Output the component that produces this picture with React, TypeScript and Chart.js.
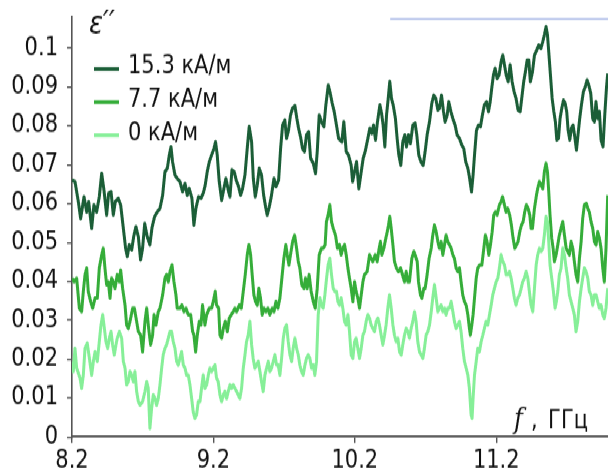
import React, { useEffect, useRef } from "react";
import { Chart, registerables } from "chart.js";

Chart.register(...registerables);

// ---------- data ----------
const seriesLabels = ["15.3 кА/м", "7.7 кА/м", "0 кА/м"];
const xTicks = [8.2, 9.2, 10.2, 11.2];
const yTicks = [0, 0.01, 0.02, 0.03, 0.04, 0.05, 0.06, 0.07, 0.08, 0.09, 0.1];
const xRange = [8.2, 11.99];
const yRange = [0, 0.108];

const freq153 = [
  8.200, 8.221, 8.245, 8.261, 8.285, 8.304, 8.318, 8.339, 8.355, 8.374,
  8.393, 8.410, 8.426, 8.445, 8.459, 8.476, 8.492, 8.506, 8.527, 8.544,
  8.563, 8.579, 8.591, 8.605, 8.622, 8.638, 8.652, 8.669, 8.685, 8.699,
  8.714, 8.732, 8.751, 8.765, 8.784, 8.803, 8.822, 8.841, 8.857, 8.874,
  8.888, 8.900, 8.911, 8.928, 8.944, 8.963, 8.982, 8.999, 9.015, 9.029,
  9.048, 9.062, 9.076, 9.095, 9.112, 9.128, 9.142, 9.156, 9.171, 9.187,
  9.204, 9.215, 9.227, 9.241, 9.258, 9.274, 9.288, 9.305, 9.317, 9.331,
  9.347, 9.361, 9.378, 9.392, 9.406, 9.423, 9.439, 9.453, 9.470, 9.482,
  9.496, 9.510, 9.524, 9.540, 9.555, 9.569, 9.580, 9.595, 9.609, 9.628,
  9.642, 9.661, 9.675, 9.689, 9.705, 9.717, 9.731, 9.745, 9.759, 9.776,
  9.790, 9.802, 9.816, 9.830, 9.844, 9.858, 9.873, 9.887, 9.906, 9.922,
  9.934, 9.948, 9.964, 9.981, 9.995, 10.012, 10.026, 10.040, 10.054, 10.070,
  10.085,
  10.108, 10.122, 10.139, 10.155, 10.174, 10.184, 10.198, 10.212, 10.228, 10.245,
  10.259, 10.273, 10.292, 10.306, 10.320, 10.332, 10.346, 10.360, 10.377, 10.389,
  10.400, 10.412, 10.424, 10.436, 10.447, 10.459, 10.471, 10.487, 10.499, 10.511,
  10.525, 10.539, 10.553, 10.565, 10.579, 10.593, 10.610, 10.626, 10.638, 10.652,
  10.667, 10.683, 10.697, 10.711, 10.728, 10.744, 10.758, 10.772, 10.787, 10.798,
  10.813, 10.827, 10.838, 10.853, 10.864, 10.879, 10.893, 10.909, 10.923, 10.940,
  10.956, 10.970, 10.984, 10.999, 11.010, 11.025, 11.036, 11.046, 11.060, 11.074,
  11.088, 11.102, 11.116, 11.131, 11.145, 11.157, 11.168, 11.180, 11.192, 11.206,
  11.220, 11.234, 11.246, 11.258, 11.270, 11.284, 11.298, 11.312, 11.326, 11.340,
  11.354, 11.369, 11.380, 11.394, 11.406, 11.418, 11.430, 11.441, 11.456, 11.470,
  11.486, 11.500, 11.515, 11.529, 11.540, 11.552, 11.562, 11.571, 11.583, 11.595,
  11.607, 11.618, 11.628, 11.640, 11.651, 11.663, 11.675, 11.687, 11.698, 11.708,
  11.720, 11.731, 11.743, 11.755, 11.767, 11.778, 11.790, 11.802, 11.816, 11.830,
  11.842, 11.854, 11.868, 11.882, 11.894, 11.905, 11.917, 11.929, 11.941, 11.955,
  11.967, 11.979, 11.988,
];
const eps153 = [
  0.0661, 0.0657, 0.0605, 0.0562, 0.0618, 0.0579, 0.0605, 0.0537, 0.0597, 0.0579,
  0.0618, 0.0678, 0.0635, 0.0571, 0.0627, 0.0631, 0.0571, 0.0605, 0.0614, 0.0597,
  0.0537, 0.0485, 0.0464, 0.0494, 0.0481, 0.0519, 0.0541, 0.0515, 0.0455, 0.0485,
  0.0549, 0.0515, 0.0494, 0.0537, 0.0567, 0.0579, 0.0588, 0.0622, 0.0682, 0.0691,
  0.0725, 0.0746, 0.0708, 0.0674, 0.0665, 0.0657, 0.0631, 0.0652, 0.0622, 0.0639,
  0.0614, 0.0545, 0.0588, 0.0618, 0.0614, 0.0627, 0.0648, 0.0682, 0.0708, 0.0725,
  0.0742, 0.0759, 0.0725, 0.0657, 0.0609, 0.0639, 0.0665, 0.0635, 0.0618, 0.0687,
  0.0682, 0.0661, 0.0644, 0.0622, 0.0639, 0.0674, 0.0742, 0.0798, 0.0759, 0.0665,
  0.0618, 0.0648, 0.0691, 0.0674, 0.0622, 0.0592, 0.0571, 0.0592, 0.0618, 0.0665,
  0.0644, 0.0661, 0.0742, 0.0802, 0.0815, 0.0768, 0.0789, 0.0828, 0.0845, 0.0852,
  0.0819, 0.0794, 0.0772, 0.0742, 0.0734, 0.0777, 0.0785, 0.0717, 0.0704, 0.0678,
  0.0734, 0.0828, 0.0811, 0.0798, 0.0854, 0.0905, 0.0884, 0.0858, 0.0837, 0.0802,
  0.0768,
  0.0759, 0.0811, 0.0734, 0.0725, 0.0699, 0.0657, 0.0682, 0.0708, 0.0639, 0.0682,
  0.0717, 0.0734, 0.0768, 0.0794, 0.0781, 0.0802, 0.0764, 0.0811, 0.0854, 0.0832,
  0.0802, 0.0747, 0.0828, 0.0871, 0.0914, 0.0871, 0.0854, 0.0819, 0.0768, 0.0725,
  0.0699, 0.0759, 0.0777, 0.0747, 0.0777, 0.0755, 0.0802, 0.0807, 0.0777, 0.0725,
  0.0708, 0.0699, 0.0734, 0.0777, 0.0811, 0.0858, 0.0879, 0.0871, 0.0841, 0.0845,
  0.0879, 0.0837, 0.0811, 0.0828, 0.0862, 0.0837, 0.0819, 0.0802, 0.0777, 0.0768,
  0.0751, 0.0742, 0.0708, 0.0691, 0.0669, 0.0631, 0.0674, 0.0725, 0.0789, 0.0802,
  0.0798, 0.0828, 0.0854, 0.0862, 0.0837, 0.0862, 0.0897, 0.0931, 0.0948, 0.0922,
  0.0931, 0.0965, 0.0982, 0.0957, 0.0931, 0.0914, 0.0957, 0.0914, 0.0888, 0.0871,
  0.0841, 0.0837, 0.0871, 0.0914, 0.0939, 0.0969, 0.0969, 0.0914, 0.0939, 0.0982,
  0.0995, 0.1008, 0.0999, 0.1017, 0.1034, 0.1055, 0.1034, 0.0991, 0.0931, 0.0871,
  0.0837, 0.0811, 0.0764, 0.0768, 0.0819, 0.0845, 0.0866, 0.0858, 0.0837, 0.0789,
  0.0764, 0.0794, 0.0802, 0.0772, 0.0738, 0.0777, 0.0819, 0.0854, 0.0888, 0.0901,
  0.0918, 0.0905, 0.0884, 0.0819, 0.0811, 0.0862, 0.0819, 0.0837, 0.0764, 0.0747,
  0.0828, 0.0897, 0.0935,
];

const freq77 = [
  8.200, 8.214, 8.233, 8.252, 8.268, 8.280, 8.292, 8.304, 8.315, 8.332,
  8.346, 8.363, 8.379, 8.393, 8.410, 8.421, 8.433, 8.445, 8.457, 8.469,
  8.480, 8.492, 8.504, 8.520, 8.535, 8.544, 8.558, 8.575, 8.586, 8.598,
  8.610, 8.629, 8.641, 8.657, 8.669, 8.685, 8.699, 8.716, 8.728, 8.742,
  8.756, 8.770, 8.780, 8.794, 8.810, 8.822, 8.841, 8.857, 8.869, 8.881,
  8.893, 8.907, 8.921, 8.935, 8.944, 8.963, 8.977, 8.992, 9.006, 9.022,
  9.039, 9.053, 9.062, 9.074, 9.086, 9.100, 9.112, 9.123, 9.140, 9.152,
  9.171, 9.187, 9.199, 9.213, 9.222, 9.237, 9.246, 9.258, 9.270, 9.284,
  9.298, 9.312, 9.326, 9.340, 9.352, 9.364, 9.383, 9.397, 9.411, 9.425,
  9.439, 9.451, 9.463, 9.474, 9.486, 9.498, 9.510, 9.521, 9.533, 9.545,
  9.557, 9.571, 9.585, 9.599, 9.616, 9.628, 9.642, 9.656, 9.670, 9.684,
  9.698, 9.712, 9.722, 9.734, 9.745, 9.760, 9.774, 9.788, 9.800, 9.811,
  9.825, 9.840, 9.851, 9.863, 9.877, 9.891, 9.906, 9.920, 9.934, 9.948,
  9.964, 9.976, 9.990, 9.999, 10.011, 10.023, 10.035, 10.047, 10.063, 10.077,
  10.092, 10.103, 10.115, 10.127, 10.139, 10.151, 10.162, 10.174, 10.186, 10.198,
  10.209, 10.221, 10.233, 10.245, 10.257, 10.268, 10.287, 10.304, 10.315, 10.327,
  10.344, 10.358, 10.372, 10.381, 10.391, 10.405, 10.414, 10.429, 10.438, 10.447,
  10.457, 10.469, 10.480, 10.494, 10.509, 10.523, 10.537, 10.551, 10.563, 10.575,
  10.586, 10.603, 10.617, 10.626, 10.641, 10.650, 10.664, 10.674, 10.688, 10.697,
  10.711, 10.725, 10.740, 10.751, 10.763, 10.775, 10.787, 10.798, 10.810, 10.822,
  10.834, 10.845, 10.857, 10.869, 10.881, 10.893, 10.904, 10.916, 10.928, 10.940,
  10.951, 10.963, 10.975, 10.987, 10.999, 11.010, 11.017, 11.027, 11.036, 11.046,
  11.058, 11.069, 11.083, 11.098, 11.112, 11.123, 11.135, 11.147, 11.159, 11.171,
  11.182, 11.194, 11.206, 11.222, 11.234, 11.244, 11.258, 11.269, 11.281, 11.295,
  11.307, 11.319, 11.331, 11.343, 11.354, 11.366, 11.378, 11.390, 11.401, 11.413,
  11.425, 11.437, 11.446, 11.456, 11.470, 11.484, 11.493, 11.505, 11.517, 11.529,
  11.540, 11.552, 11.562, 11.571, 11.580, 11.592, 11.602, 11.611, 11.623, 11.635,
  11.646, 11.658, 11.670, 11.682, 11.694, 11.705, 11.717, 11.729, 11.741, 11.752,
  11.764, 11.776, 11.788, 11.800, 11.811, 11.823, 11.837, 11.847, 11.858, 11.870,
  11.882, 11.894, 11.906, 11.917, 11.929, 11.941, 11.953, 11.964, 11.976, 11.988,
];
const eps77 = [
  0.0408, 0.0399, 0.0408, 0.0331, 0.0322, 0.0374, 0.0417, 0.0434, 0.0374, 0.0348,
  0.0331, 0.0357, 0.0357, 0.0434, 0.0468, 0.0485, 0.0434, 0.0391, 0.0399, 0.0357,
  0.0408, 0.0399, 0.0382, 0.0417, 0.0399, 0.0429, 0.0382, 0.0339, 0.0288, 0.0279,
  0.0297, 0.0331, 0.0331, 0.0297, 0.0271, 0.0262, 0.0219, 0.0297, 0.0331, 0.0279,
  0.0237, 0.0262, 0.0314, 0.0288, 0.0322, 0.0331, 0.0365, 0.0408, 0.0417, 0.0399,
  0.0425, 0.0442, 0.0399, 0.0365, 0.0331, 0.0331, 0.0339, 0.0322, 0.0331, 0.0314,
  0.0314, 0.0271, 0.0262, 0.0219, 0.0262, 0.0297, 0.0288, 0.0339, 0.0288, 0.0314,
  0.0331, 0.0331, 0.0348, 0.0374, 0.0339, 0.0331, 0.0262, 0.0254, 0.0279, 0.0297,
  0.0271, 0.0305, 0.0314, 0.0322, 0.0331, 0.0322, 0.0339, 0.0331, 0.0374, 0.0417,
  0.0468, 0.0494, 0.0468, 0.0417, 0.0365, 0.0348, 0.0339, 0.0382, 0.0357, 0.0314,
  0.0331, 0.0322, 0.0331, 0.0314, 0.0331, 0.0322, 0.0348, 0.0331, 0.0357, 0.0408,
  0.0459, 0.0494, 0.0468, 0.0442, 0.0468, 0.0502, 0.0519, 0.0485, 0.0451, 0.0434,
  0.0391, 0.0382, 0.0408, 0.0382, 0.0417, 0.0374, 0.0348, 0.0331, 0.0382, 0.0468,
  0.0485, 0.0485, 0.0494, 0.0554, 0.0571, 0.0597, 0.0554, 0.0537, 0.0519, 0.0485,
  0.0494, 0.0468, 0.0485, 0.0494, 0.0468, 0.0434, 0.0408, 0.0382, 0.0348, 0.0399,
  0.0374, 0.0357, 0.0331, 0.0365, 0.0399, 0.0417, 0.0425, 0.0468, 0.0459, 0.0451,
  0.0468, 0.0451, 0.0485, 0.0502, 0.0468, 0.0485, 0.0502, 0.0528, 0.0545, 0.0567,
  0.0537, 0.0494, 0.0451, 0.0434, 0.0425, 0.0434, 0.0417, 0.0399, 0.0425, 0.0399,
  0.0399, 0.0459, 0.0477, 0.0468, 0.0451, 0.0399, 0.0365, 0.0357, 0.0382, 0.0382,
  0.0417, 0.0459, 0.0485, 0.0519, 0.0545, 0.0528, 0.0502, 0.0485, 0.0502, 0.0468,
  0.0494, 0.0519, 0.0502, 0.0494, 0.0485, 0.0468, 0.0459, 0.0434, 0.0425, 0.0434,
  0.0399, 0.0365, 0.0348, 0.0339, 0.0314, 0.0279, 0.0262, 0.0288, 0.0314, 0.0357,
  0.0408, 0.0434, 0.0442, 0.0442, 0.0485, 0.0519, 0.0502, 0.0468, 0.0494, 0.0528,
  0.0571, 0.0579, 0.0571, 0.0597, 0.0605, 0.0618, 0.0597, 0.0579, 0.0588, 0.0571,
  0.0545, 0.0511, 0.0485, 0.0494, 0.0502, 0.0528, 0.0545, 0.0554, 0.0579, 0.0597,
  0.0588, 0.0571, 0.0537, 0.0537, 0.0588, 0.0622, 0.0639, 0.0657, 0.0648, 0.0639,
  0.0682, 0.0704, 0.0682, 0.0631, 0.0571, 0.0511, 0.0485, 0.0451, 0.0468, 0.0494,
  0.0519, 0.0537, 0.0554, 0.0519, 0.0485, 0.0477, 0.0468, 0.0502, 0.0485, 0.0451,
  0.0417, 0.0399, 0.0459, 0.0502, 0.0562, 0.0597, 0.0601, 0.0588, 0.0579, 0.0554,
  0.0537, 0.0502, 0.0494, 0.0528, 0.0511, 0.0485, 0.0434, 0.0399, 0.0485, 0.0622,
];

const freq0 = [
  8.200, 8.209, 8.221, 8.233, 8.257, 8.268, 8.280, 8.292, 8.308, 8.323,
  8.339, 8.351, 8.363, 8.379, 8.393, 8.405, 8.417, 8.429, 8.440, 8.452,
  8.464, 8.476, 8.487, 8.499, 8.511, 8.520, 8.535, 8.551, 8.563, 8.575,
  8.586, 8.598, 8.610, 8.622, 8.634, 8.645, 8.657, 8.669, 8.681, 8.699,
  8.716, 8.728, 8.739, 8.751, 8.763, 8.775, 8.787, 8.798, 8.810, 8.822,
  8.834, 8.845, 8.857, 8.869, 8.881, 8.893, 8.904, 8.916, 8.928, 8.940,
  8.951, 8.963, 8.975, 8.987, 8.999, 9.010, 9.022, 9.034, 9.046, 9.057,
  9.069, 9.081, 9.093, 9.105, 9.116, 9.128, 9.140, 9.152, 9.164, 9.175,
  9.187, 9.199, 9.211, 9.222, 9.234, 9.246, 9.258, 9.270, 9.281, 9.293,
  9.305, 9.317, 9.328, 9.340, 9.352, 9.364, 9.375, 9.387, 9.399, 9.411,
  9.423, 9.434, 9.446, 9.458, 9.470, 9.481, 9.493, 9.505, 9.517, 9.529,
  9.540, 9.552, 9.564, 9.576, 9.588, 9.599, 9.611, 9.623, 9.635, 9.646,
  9.658, 9.670, 9.682, 9.694, 9.705, 9.717, 9.729, 9.741, 9.753, 9.764,
  9.776, 9.788, 9.800, 9.811, 9.823, 9.835, 9.847, 9.858, 9.870, 9.882,
  9.894, 9.906, 9.917, 9.929, 9.941, 9.953, 9.964, 9.976, 9.988, 10.000,
  10.011, 10.023, 10.035, 10.047, 10.059, 10.070,
  10.080, 10.092, 10.103, 10.115, 10.127, 10.139, 10.151, 10.162, 10.174, 10.186,
  10.198, 10.209, 10.221, 10.233, 10.245, 10.257, 10.268, 10.280, 10.292, 10.304,
  10.315, 10.327, 10.339, 10.351, 10.363, 10.374, 10.386, 10.398, 10.410, 10.421,
  10.433, 10.445, 10.457, 10.469, 10.480, 10.492, 10.504, 10.516, 10.528, 10.539,
  10.551, 10.563, 10.575, 10.586, 10.598, 10.610, 10.622, 10.633, 10.645, 10.657,
  10.669, 10.681, 10.692, 10.704, 10.716, 10.728, 10.740, 10.751, 10.763, 10.775,
  10.787, 10.798, 10.810, 10.822, 10.834, 10.845, 10.857, 10.869, 10.881, 10.893,
  10.904, 10.916, 10.928, 10.940, 10.951, 10.963, 10.975, 10.987, 10.999, 11.010,
  11.022, 11.029, 11.036, 11.046, 11.058, 11.069, 11.081, 11.093, 11.105, 11.116,
  11.128, 11.140, 11.152, 11.164, 11.175, 11.187, 11.199, 11.211, 11.222, 11.234,
  11.246, 11.258, 11.270, 11.281, 11.293, 11.305, 11.317, 11.328, 11.340, 11.352,
  11.364, 11.376, 11.387, 11.399, 11.411, 11.423, 11.434, 11.446, 11.458, 11.470,
  11.482, 11.493, 11.505, 11.517, 11.529, 11.540, 11.552, 11.562, 11.571, 11.580,
  11.592, 11.604, 11.616, 11.625, 11.635, 11.646, 11.658, 11.670, 11.682, 11.694,
  11.705, 11.717, 11.729, 11.741, 11.752, 11.764, 11.776, 11.788, 11.800, 11.811,
  11.823, 11.835, 11.847, 11.858, 11.870, 11.882, 11.894, 11.906, 11.917, 11.929,
  11.941, 11.953, 11.964, 11.976, 11.988,
];
const eps0 = [
  0.0194, 0.0168, 0.0228, 0.0177, 0.0151, 0.0125, 0.0159, 0.0228, 0.0241, 0.0202,
  0.0159, 0.0194, 0.0219, 0.0194, 0.0245, 0.0288, 0.0314, 0.0279, 0.0245, 0.0228,
  0.0254, 0.0271, 0.0237, 0.0211, 0.0237, 0.0254, 0.0271, 0.0254, 0.0194, 0.0177,
  0.0134, 0.0142, 0.0168, 0.0159, 0.0142, 0.0168, 0.0117, 0.0091, 0.0082, 0.0091,
  0.0117, 0.0142, 0.0125, 0.0022, 0.0074, 0.0108, 0.0099, 0.0082, 0.0099, 0.0134,
  0.0177, 0.0211, 0.0228, 0.0237, 0.0254, 0.0271, 0.0271, 0.0245, 0.0228, 0.0194,
  0.0185, 0.0202, 0.0219, 0.0185, 0.0177, 0.0159, 0.0159, 0.0134, 0.0099, 0.0065,
  0.0048, 0.0057, 0.0091, 0.0091, 0.0125, 0.0159, 0.0125, 0.0134, 0.0159, 0.0177,
  0.0168, 0.0177, 0.0185, 0.0151, 0.0142, 0.0108, 0.0091, 0.0108, 0.0117, 0.0099,
  0.0117, 0.0134, 0.0125, 0.0134, 0.0125, 0.0117, 0.0108, 0.0099, 0.0125, 0.0177,
  0.0211, 0.0245, 0.0262, 0.0297, 0.0237, 0.0202, 0.0177, 0.0185, 0.0194, 0.0168,
  0.0142, 0.0117, 0.0159, 0.0177, 0.0194, 0.0168, 0.0177, 0.0194, 0.0211, 0.0185,
  0.0185, 0.0159, 0.0202, 0.0254, 0.0279, 0.0288, 0.0245, 0.0211, 0.0194, 0.0228,
  0.0254, 0.0228, 0.0211, 0.0185, 0.0168, 0.0159, 0.0185, 0.0202, 0.0211, 0.0202,
  0.0177, 0.0185, 0.0159, 0.0194, 0.0314, 0.0357, 0.0339, 0.0331, 0.0365, 0.0408,
  0.0442, 0.0459, 0.0417, 0.0382, 0.0374, 0.0374,
  0.0348, 0.0339, 0.0357, 0.0331, 0.0297, 0.0288, 0.0314, 0.0271, 0.0211, 0.0202,
  0.0245, 0.0254, 0.0228, 0.0202, 0.0228, 0.0262, 0.0271, 0.0297, 0.0314, 0.0305,
  0.0288, 0.0279, 0.0271, 0.0297, 0.0305, 0.0288, 0.0262, 0.0237, 0.0262, 0.0288,
  0.0331, 0.0365, 0.0331, 0.0288, 0.0262, 0.0245, 0.0254, 0.0219, 0.0211, 0.0237,
  0.0262, 0.0279, 0.0271, 0.0254, 0.0279, 0.0297, 0.0322, 0.0297, 0.0245, 0.0219,
  0.0211, 0.0202, 0.0228, 0.0262, 0.0271, 0.0288, 0.0322, 0.0357, 0.0391, 0.0357,
  0.0322, 0.0331, 0.0339, 0.0322, 0.0331, 0.0314, 0.0331, 0.0331, 0.0348, 0.0322,
  0.0297, 0.0279, 0.0288, 0.0297, 0.0271, 0.0228, 0.0194, 0.0177, 0.0159, 0.0125,
  0.0057, 0.0048, 0.0099, 0.0159, 0.0194, 0.0228, 0.0219, 0.0245, 0.0262, 0.0279,
  0.0297, 0.0288, 0.0314, 0.0339, 0.0365, 0.0382, 0.0399, 0.0408, 0.0434, 0.0468,
  0.0451, 0.0442, 0.0417, 0.0417, 0.0425, 0.0408, 0.0382, 0.0357, 0.0339, 0.0357,
  0.0365, 0.0382, 0.0399, 0.0408, 0.0425, 0.0408, 0.0374, 0.0339, 0.0322, 0.0382,
  0.0442, 0.0468, 0.0485, 0.0477, 0.0485, 0.0519, 0.0567, 0.0554, 0.0502, 0.0442,
  0.0408, 0.0374, 0.0331, 0.0348, 0.0374, 0.0417, 0.0434, 0.0485, 0.0468, 0.0434,
  0.0408, 0.0365, 0.0348, 0.0331, 0.0314, 0.0271, 0.0297, 0.0348, 0.0382, 0.0408,
  0.0434, 0.0425, 0.0408, 0.0374, 0.0365, 0.0339, 0.0365, 0.0365, 0.0348, 0.0331,
  0.0339, 0.0314, 0.0305, 0.0331, 0.0382,
];

// faint horizontal guide line at the top right
const guideFreq = [10.45, 11.99];
const guideEps = [0.1075, 0.1075];

// ---------- styling ----------
const COLORS = ["#1b5e37", "#35ad39", "#86ef98"];
const GUIDE_COLOR = "#b3c0ea";
const W = 608;
const H = 396;
const SY = 475 / H;
const FONT = '"DejaVu Sans", sans-serif';

const toPts = (f: number[], e: number[]) => f.map((x, i) => ({ x, y: e[i] }));
const fmt = (v: number) => String(+(+v).toFixed(3));

const annotations = {
  id: "annotations",
  afterDraw(chart: any) {
    const ctx: CanvasRenderingContext2D = chart.ctx;
    ctx.save();
    // legend
    seriesLabels.forEach((label, i) => {
      const y = 57.5 + i * 27.6;
      ctx.strokeStyle = COLORS[i];
      ctx.lineWidth = 3.2;
      ctx.lineCap = "butt";
      ctx.beginPath();
      ctx.moveTo(94, y);
      ctx.lineTo(119, y);
      ctx.stroke();
      ctx.fillStyle = "#111";
      ctx.font = `21px ${FONT}`;
      ctx.textAlign = "left";
      ctx.textBaseline = "middle";
      ctx.fillText(label, 128, y - 1.5);
    });
    // y-axis title
    ctx.fillStyle = "#111";
    ctx.textBaseline = "alphabetic";
    ctx.textAlign = "left";
    ctx.font = `italic 26px ${FONT}`;
    ctx.fillText("ε′′", 89, 27.5);
    // x-axis title
    ctx.font = `21px ${FONT}`;
    ctx.textAlign = "right";
    ctx.fillText("ГГц", 588, 356.5);
    ctx.textAlign = "left";
    ctx.fillText(",", 531, 356.5);
    ctx.font = `italic 24px "DejaVu Serif", serif`;
    ctx.fillText("f", 514, 356.5);
    ctx.restore();
  },
};

export default function App() {
  const ref = useRef<HTMLCanvasElement>(null);

  useEffect(() => {
    const canvas = ref.current;
    if (!canvas) return;
    const lineDs = (label: string, data: any, color: string, width = 3) => ({
      label,
      data,
      borderColor: color,
      backgroundColor: color,
      borderWidth: width,
      pointRadius: 0,
      tension: 0,
      fill: false,
      borderJoinStyle: "round" as const,
    });
    const chart = new Chart(canvas, {
      type: "line",
      data: {
        datasets: [
          lineDs(seriesLabels[2], toPts(freq0, eps0), COLORS[2]),
          lineDs(seriesLabels[1], toPts(freq77, eps77), COLORS[1]),
          lineDs(seriesLabels[0], toPts(freq153, eps153), COLORS[0]),
          lineDs("guide", toPts(guideFreq, guideEps), GUIDE_COLOR, 1.8),
        ],
      },
      options: {
        responsive: false,
        maintainAspectRatio: false,
        animation: false,
        devicePixelRatio: 1,
        events: [],
        layout: { padding: { top: 14.2, left: 0, right: 0, bottom: 0 } },
        plugins: { legend: { display: false }, tooltip: { enabled: false } },
        scales: {
          x: {
            type: "linear",
            min: xRange[0],
            max: xRange[1],
            afterBuildTicks: (s: any) => {
              s.ticks = xTicks.map((value) => ({ value }));
            },
            afterFit: (s: any) => {
              s.height = H - 364.3;
              s.paddingLeft = 0;
              s.paddingRight = 0;
            },
            grid: { drawOnChartArea: false, drawTicks: true, tickLength: 5, color: "#555", lineWidth: 1.4 },
            border: { display: true, color: "#555", width: 1.8 },
            ticks: {
              padding: 3,
              color: "#111",
              font: { family: FONT, size: 21 },
              maxRotation: 0,
              autoSkip: false,
              callback: (v: any) => fmt(v),
            },
          },
          y: {
            type: "linear",
            min: yRange[0],
            max: yRange[1],
            afterBuildTicks: (s: any) => {
              s.ticks = yTicks.map((value) => ({ value }));
            },
            afterFit: (s: any) => {
              s.width = 72;
              s.paddingTop = 0;
              s.paddingBottom = 0;
            },
            grid: { drawOnChartArea: false, drawTicks: true, tickLength: 5, color: "#555", lineWidth: 1.4 },
            border: { display: true, color: "#555", width: 1.6 },
            ticks: {
              padding: 9,
              color: "#111",
              font: { family: FONT, size: 21 },
              autoSkip: false,
              callback: (v: any) => fmt(v),
            },
          },
        },
      },
      plugins: [annotations],
    });
    return () => chart.destroy();
  }, []);

  return (
    <div
      style={{
        position: "absolute",
        left: 0,
        top: 0,
        width: W,
        height: H,
        transform: `scaleY(${SY})`,
        transformOrigin: "0 0",
        background: "#fff",
      }}
    >
      <canvas ref={ref} width={W} height={H} style={{ display: "block", width: W, height: H }} />
    </div>
  );
}
